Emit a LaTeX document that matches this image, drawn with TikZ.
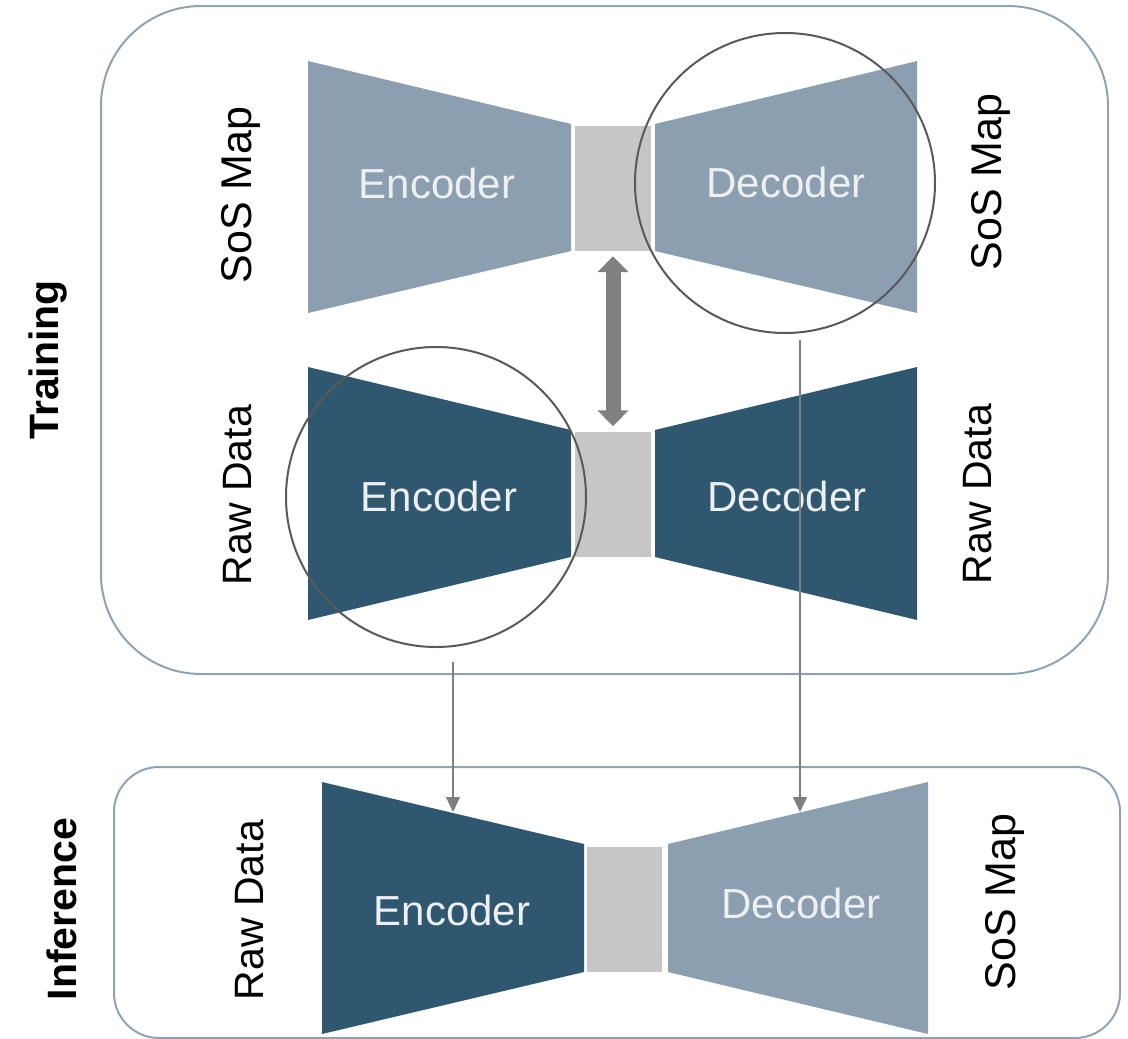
\documentclass[tikz,border=0pt]{standalone}
\usepackage{fontspec}
\setmainfont{Liberation Sans}
\usetikzlibrary{arrows.meta}
\definecolor{lightblue}{HTML}{8B9FB0}
\definecolor{darkblue}{HTML}{2F5870}
\definecolor{neck}{HTML}{C6C6C6}
\definecolor{frame}{HTML}{8FA3B5}
\definecolor{ringc}{HTML}{595959}
\definecolor{arrowc}{HTML}{808080}
\definecolor{intext}{HTML}{EDEFF1}
\tikzset{
  panel/.style={draw=frame, line width=2pt},
  lightpart/.style={fill=lightblue},
  darkpart/.style={fill=darkblue},
  bneck/.style={fill=neck, draw=none, inner sep=0pt, minimum width=76pt, minimum height=125pt},
  innerlabel/.style={text=intext, font=\fontsize{42}{50}\selectfont},
  sidelabel/.style={text=black, rotate=90, font=\fontsize{41}{49}\selectfont},
  soslabel/.style={sidelabel, font=\fontsize{43}{51}\selectfont},
  titlelabel/.style={text=black, rotate=90, font=\fontsize{41}{49}\selectfont\bfseries},
  ring/.style={draw=ringc, line width=2pt},
  thinarrow/.style={draw=arrowc, line width=1.2pt, -{Triangle[width=14pt,length=15pt]}},
  fatarrow/.style={draw=arrowc, line width=15pt, {Triangle[width=30pt,length=16pt]}-{Triangle[width=30pt,length=16pt]}}
}
\begin{document}
\begin{tikzpicture}[x=1pt, y=-1pt]
\useasboundingbox (0,0) rectangle (1128,1039);
% panels
\draw[panel, rounded corners=100pt] (101,6) rectangle (1108,674);
\draw[panel, rounded corners=45pt] (114,767) rectangle (1120,1038);

% training, top row (SoS map autoencoder)
\fill[lightpart] (308,61) -- (571,124) -- (571,251) -- (308,313) -- cycle;
\node[bneck] (b1) at (613,188.5) {};
\fill[lightpart] (655,124) -- (917,61) -- (917,313) -- (655,251) -- cycle;
\node[innerlabel] (e1) at (437,183) {Encoder};
\node[innerlabel] (d1) at (786,182) {Decoder};

% training, bottom row (raw data autoencoder)
\fill[darkpart] (308,367) -- (571,430) -- (571,557) -- (308,620) -- cycle;
\node[bneck] (b2) at (613,494) {};
\fill[darkpart] (655,430) -- (917,367) -- (917,620) -- (655,557) -- cycle;
\node[innerlabel] (e2) at (439,496) {Encoder};
\node[innerlabel] (d2) at (787,496) {Decoder};

% inference row
\fill[darkpart] (322,782) -- (584,844) -- (584,972) -- (322,1034) -- cycle;
\node[bneck, minimum width=75pt] (b3) at (624.5,909.5) {};
\fill[lightpart] (668,844) -- (928,782) -- (928,1034) -- (668,972) -- cycle;
\node[innerlabel] (e3) at (452,910) {Encoder};
\node[innerlabel] (d3) at (801,903) {Decoder};

% side labels
\node[soslabel] (s1) at (241,195) {SoS Map};
\node[soslabel] (s2) at (991,182) {SoS Map};
\node[sidelabel] (r1) at (238,495) {Raw Data};
\node[sidelabel] (r2) at (978,494) {Raw Data};
\node[sidelabel] (r3) at (250,910) {Raw Data};
\node[soslabel] (s3) at (1005,902) {SoS Map};
\node[titlelabel] (tr) at (48,360) {Training};
\node[titlelabel] (inf) at (62,909) {Inference};

% highlight rings
\node[ring, circle, minimum size=300pt, inner sep=0pt] (c1) at (785,183) {};
\node[ring, circle, minimum size=300pt, inner sep=0pt] (c2) at (436,497) {};

% double arrow between latent spaces
\draw[fatarrow, shorten <=5pt, shorten >=5pt] (b1.south) -- (b2.north);

% transfer arrows
\coordinate (t1) at (453,662);
\coordinate (h1) at (453,812);
\coordinate (t2) at (800,340);
\coordinate (h2) at (800,812);
\draw[thinarrow] (t1) -- (h1);
\draw[thinarrow] (t2) -- (h2);
\end{tikzpicture}
\end{document}
